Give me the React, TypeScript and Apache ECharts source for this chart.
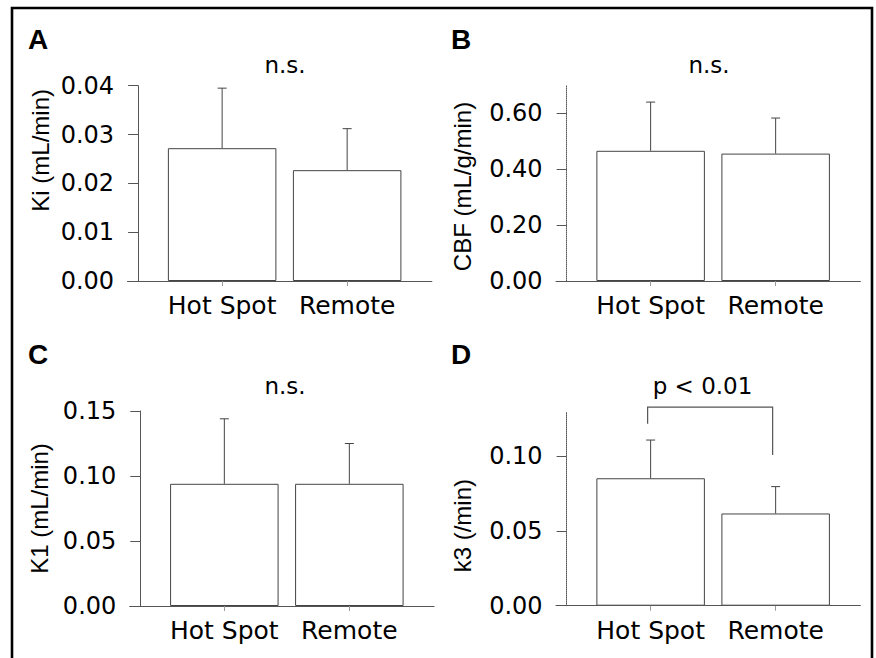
import React, { useEffect, useRef } from "react";
import * as echarts from "echarts";

// ---------- data ----------
const categories = ["Hot Spot", "Remote"];

const kiMean = [0.0272, 0.0227];
const kiSD = [0.0123, 0.0085];
const cbfMean = [0.465, 0.455];
const cbfSD = [0.174, 0.127];
const k1Mean = [0.094, 0.094];
const k1SD = [0.05, 0.031];
const k3Mean = [0.0854, 0.0618];
const k3SD = [0.0256, 0.018];

const kiTicks = [0, 0.01, 0.02, 0.03, 0.04];
const cbfTicks = [0, 0.2, 0.4, 0.6];
const k1Ticks = [0, 0.05, 0.1, 0.15];
const k3Ticks = [0, 0.05, 0.1];

const axisMax = [0.04, 0.7, 0.15, 0.13];
const axisNames = ["Ki (mL/min)", "CBF (mL/g/min)", "K1 (mL/min)", "k3 (/min)"];
const panelLetters = ["A", "B", "C", "D"];
const significance = ["n.s.", "n.s.", "n.s.", "p < 0.01"];
// significance bracket in panel D: [left leg end, bracket level, right leg end]
const k3Bracket = [0.122, 0.133, 0.101];

// ---------- layout ----------
const LABEL_FONT = "DejaVu Sans";
const NAME_FONT = "Liberation Sans";
const X_MIN = -0.757;
const X_MAX = 1.678;
const GRID_W = 304.4;
const Y_OFFSET = -10.6;

const layouts = [
  { left: 127.5, top: 85.7, height: 195.3, nameGap: 86, namePad: [0, 0, 0, 66], letter: [28, 39.5], sig: [285, 64.8] },
  { left: 556, top: 85, height: 196, nameGap: 92, namePad: [0, 7, 0, 0], letter: [451, 39.5], sig: [709, 64.8] },
  { left: 129.7, top: 411, height: 195, nameGap: 89, namePad: [0, 0, 0, 0], letter: [28, 354.8], sig: [285, 386] },
  { left: 556, top: 411.7, height: 194, nameGap: 92, namePad: [0, 34, 0, 0], letter: [451, 354.8], sig: [702.5, 386.4] },
];

const means = [kiMean, cbfMean, k1Mean, k3Mean];
const sds = [kiSD, cbfSD, k1SD, k3SD];
const ticks = [kiTicks, cbfTicks, k1Ticks, k3Ticks];

const AXIS_COLOR = "#555";
const BAR_EDGE = "#444";
const TEXT = "#000";

function buildOption(): any {
  const grid: any[] = [];
  const xAxis: any[] = [];
  const yAxis: any[] = [];
  const series: any[] = [];
  const graphic: any[] = [];

  layouts.forEach((L, i) => {
    grid.push({ left: L.left, top: L.top, width: GRID_W, height: L.height, containLabel: false });
    xAxis.push({
      type: "value",
      gridIndex: i,
      min: X_MIN,
      max: X_MAX,
      axisLine: { show: true, onZero: false, lineStyle: { color: AXIS_COLOR, width: 1 } },
      axisTick: { show: true, customValues: [0, 1], length: 5, lineStyle: { color: "#999", width: 1 } },
      axisLabel: {
        show: true,
        customValues: [0, 1],
        formatter: (v: number) => categories[Math.round(v)] ?? "",
        fontFamily: LABEL_FONT,
        fontSize: 25,
        color: TEXT,
        margin: 12,
      },
      splitLine: { show: false },
    });
    const dotted = i === 1 || i === 3;
    yAxis.push({
      type: "value",
      gridIndex: i,
      min: 0,
      max: axisMax[i],
      offset: Y_OFFSET,
      axisLine: { show: true, onZero: false, lineStyle: { color: AXIS_COLOR, width: 1, type: dotted ? "dotted" : "solid" } },
      axisTick: { show: true, inside: false, length: 10, customValues: ticks[i], lineStyle: { color: AXIS_COLOR, width: 1 } },
      axisLabel: {
        show: true,
        customValues: ticks[i],
        formatter: (v: number) => v.toFixed(2),
        fontFamily: LABEL_FONT,
        fontSize: 24,
        color: TEXT,
        margin: 24,
      },
      splitLine: { show: false },
      name: axisNames[i],
      nameLocation: "middle",
      nameGap: L.nameGap,
      nameTextStyle: { fontFamily: NAME_FONT, fontSize: 24, color: TEXT, padding: L.namePad },
    });

    series.push({
      type: "bar",
      xAxisIndex: i,
      yAxisIndex: i,
      data: means[i].map((m, j) => [j, m]),
      barWidth: 108.5,
      itemStyle: { color: "#fff", borderColor: BAR_EDGE, borderWidth: 1 },
      silent: true,
      z: 2,
    });
    series.push({
      type: "custom",
      xAxisIndex: i,
      yAxisIndex: i,
      data: means[i].map((m, j) => [j, m, m + sds[i][j]]),
      renderItem: (params: any, api: any) => {
        const x = api.value(0);
        const lo = api.coord([x, api.value(1)]);
        const hi = api.coord([x, api.value(2)]);
        const st = { stroke: BAR_EDGE, lineWidth: 1 };
        return {
          type: "group",
          children: [
            { type: "line", shape: { x1: hi[0], y1: lo[1], x2: hi[0], y2: hi[1] }, style: st },
            { type: "line", shape: { x1: hi[0] - 4.5, y1: hi[1], x2: hi[0] + 4.5, y2: hi[1] }, style: st },
          ],
        };
      },
      silent: true,
      z: 3,
    });

    graphic.push({
      type: "text",
      x: L.letter[0],
      y: L.letter[1],
      style: {
        text: panelLetters[i],
        fontFamily: NAME_FONT,
        fontWeight: "bold",
        fontSize: 28,
        fill: "#000",
        align: "left",
        verticalAlign: "middle",
        textAlign: "left",
        textVerticalAlign: "middle",
      },
    });
    graphic.push({
      type: "text",
      x: L.sig[0],
      y: L.sig[1],
      style: {
        text: significance[i],
        fontFamily: LABEL_FONT,
        fontSize: 23,
        fill: TEXT,
        align: "center",
        verticalAlign: "middle",
        textAlign: "center",
        textVerticalAlign: "middle",
      },
    });
  });

  // significance bracket (panel D)
  series.push({
    type: "custom",
    xAxisIndex: 3,
    yAxisIndex: 3,
    clip: false,
    data: [k3Bracket],
    encode: { x: 0, y: 1 },
    renderItem: (params: any, api: any) => {
      const p0 = api.coord([0, api.value(0)]);
      const p1 = api.coord([0, api.value(1)]);
      const p2 = api.coord([1, api.value(1)]);
      const p3 = api.coord([1, api.value(2)]);
      const dx = -3;
      return {
        type: "polyline",
        shape: {
          points: [
            [p0[0] + dx, p0[1]],
            [p1[0] + dx, p1[1]],
            [p2[0] + dx, p2[1]],
            [p3[0] + dx, p3[1]],
          ],
        },
        style: { stroke: AXIS_COLOR, lineWidth: 1.2, fill: "none" },
      };
    },
    silent: true,
    z: 3,
  });

  graphic.push({
    type: "rect",
    shape: { x: 12, y: 8, width: 860, height: 720 },
    style: { fill: "none", stroke: "#000", lineWidth: 2.6 },
    silent: true,
    z: 10,
  });

  return {
    animation: false,
    backgroundColor: "#fff",
    grid,
    xAxis,
    yAxis,
    series,
    graphic,
  };
}

export default function App() {
  const ref = useRef<HTMLDivElement>(null);
  useEffect(() => {
    if (!ref.current) return;
    const chart = echarts.init(ref.current, undefined, { renderer: "svg" });
    chart.setOption(buildOption());
    return () => chart.dispose();
  }, []);
  return (
    <div
      ref={ref}
      style={{ position: "fixed", left: 0, top: 0, width: 876, height: 658, background: "#fff" }}
    />
  );
}
